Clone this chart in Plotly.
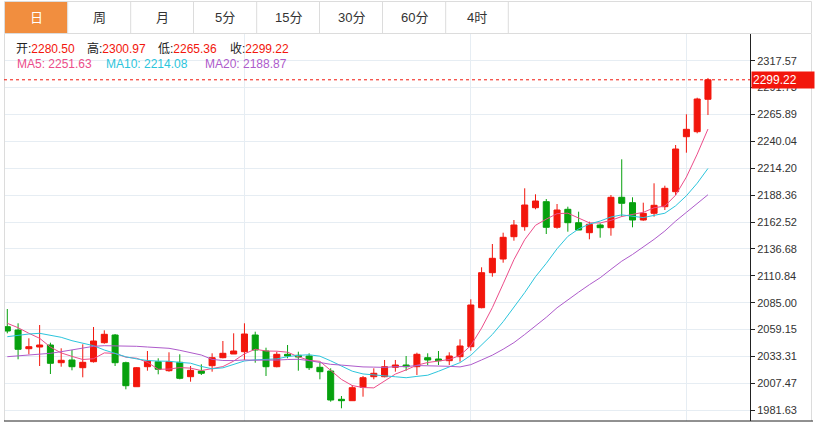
import plotly.graph_objects as go
import pandas as pd

# ---------------- data ----------------
opens = [
    2061.96, 2058.79, 2040.83, 2042.46, 2044.38, 2027.37, 2029.97, 2022.57, 2028.33, 2046.59,
    2053.99, 2027.37, 2004.31, 2023.53, 2028.33, 2019.69, 2027.75, 2013.92, 2019.40, 2024.49,
    2032.18, 2035.73, 2037.94, 2053.99, 2038.61, 2023.53, 2035.44, 2034.48, 2033.81, 2022.95,
    2019.40, 1992.20, 1990.86, 2003.73, 2013.92, 2013.92, 2022.95, 2025.16, 2023.53, 2032.18,
    2030.93, 2029.29, 2033.14, 2042.75, 2080.22, 2113.85, 2127.02, 2148.44, 2158.05, 2176.31,
    2182.08, 2157.48, 2174.77, 2161.90, 2152.29, 2159.69, 2157.09, 2186.30, 2181.12, 2164.49,
    2170.93, 2177.27, 2191.69, 2244.53, 2249.34, 2280.50]
highs = [
    2078.97, 2065.23, 2050.82, 2063.60, 2046.59, 2041.21, 2039.57, 2045.05, 2061.68, 2058.50,
    2054.95, 2028.33, 2023.24, 2038.61, 2031.60, 2037.36, 2035.44, 2024.20, 2025.83, 2036.40,
    2048.22, 2055.62, 2065.23, 2057.16, 2041.78, 2037.94, 2044.38, 2037.94, 2036.40, 2027.37,
    2021.99, 1995.37, 2005.94, 2014.59, 2021.99, 2029.97, 2029.97, 2033.81, 2036.98, 2036.40,
    2038.61, 2037.36, 2049.86, 2088.29, 2119.04, 2141.43, 2152.29, 2164.49, 2194.95, 2189.19,
    2184.67, 2179.87, 2177.27, 2172.47, 2162.86, 2161.32, 2188.51, 2222.82, 2186.30, 2181.12,
    2199.76, 2197.45, 2236.56, 2266.06, 2282.01, 2300.97]
lows = [
    2055.62, 2030.64, 2035.44, 2024.20, 2016.51, 2023.53, 2020.07, 2013.34, 2027.50, 2045.63,
    2024.20, 2001.81, 2004.31, 2019.69, 2016.22, 2018.72, 2011.42, 2009.11, 2015.55, 2018.72,
    2031.60, 2035.73, 2029.97, 2027.37, 2014.59, 2022.95, 2031.60, 2019.69, 2020.37, 2011.42,
    1989.90, 1983.56, 1990.86, 1994.70, 2011.42, 2013.34, 2018.72, 2019.69, 2015.55, 2025.16,
    2025.16, 2025.16, 2028.33, 2038.90, 2079.64, 2110.01, 2123.46, 2144.60, 2154.21, 2174.77,
    2151.04, 2156.13, 2153.25, 2154.88, 2145.95, 2147.48, 2149.41, 2167.66, 2157.48, 2163.80,
    2167.66, 2174.10, 2188.51, 2229.16, 2247.80, 2265.36]
closes = [
    2057.83, 2040.25, 2042.75, 2044.38, 2026.79, 2029.68, 2023.53, 2027.75, 2048.22, 2054.66,
    2027.37, 2005.27, 2022.57, 2029.01, 2021.03, 2028.33, 2012.38, 2020.07, 2017.19, 2032.18,
    2036.40, 2038.61, 2054.95, 2039.57, 2023.53, 2035.44, 2033.81, 2032.85, 2022.57, 2018.72,
    1991.53, 1990.86, 2003.35, 2012.96, 2017.19, 2023.53, 2025.16, 2023.53, 2035.44, 2029.97,
    2029.29, 2033.81, 2043.42, 2082.82, 2113.85, 2127.69, 2147.87, 2159.69, 2178.91, 2182.75,
    2157.48, 2174.10, 2161.90, 2154.88, 2160.36, 2157.09, 2186.30, 2180.54, 2164.49, 2170.93,
    2178.62, 2194.95, 2232.72, 2251.65, 2280.76, 2299.22]

# moving-average values at the left edge (they depend on bars before the window)
ma5_head = [2065.23, 2061.01, 2055.62, 2050.82]
ma10_head = [2052.36, 2053.99, 2054.95, 2055.62, 2053.99, 2051.78, 2048.51, 2046.01, 2043.71]
ma20_head = [2033.14, 2033.81, 2034.48, 2035.06, 2036.40, 2037.94, 2039.57, 2041.78, 2043.13,
             2043.71, 2043.71, 2043.42, 2043.13, 2042.46, 2041.78, 2041.21, 2039.29, 2037.36,
             2034.77]

ohlc_labels = ["开", "高", "低", "收"]
ma_names = ["MA5", "MA10", "MA20"]
ma_values_text = ["2251.63", "2214.08", "2188.87"]
tab_labels = ["日", "周", "月", "5分", "15分", "30分", "60分", "4时"]
y_ticks = [1981.63, 2007.47, 2033.31, 2059.15, 2085.00, 2110.84, 2136.68, 2162.52,
           2188.36, 2214.20, 2240.04, 2265.89, 2291.73, 2317.57]
grid_x = [22, 43, 63]

# ---------------- styles ----------------
RED = "#F2160C"
GREEN = "#07A10E"
MA_COLORS = ["#EC4D8A", "#2CC5DC", "#AE5BCB"]
GRID = "#E6EDF3"
BORDER = "#DCDCDC"
FONT = "Liberation Sans, Noto Sans CJK SC, sans-serif"

W, H = 816, 423
L, R, T, B = 4, 750, 34, 421   # plot area in pixels

def px(xp):
    return (xp - L) / (R - L)

def py(yp):
    return (B - yp) / (B - T)

x = list(range(len(closes)))
s = pd.Series(closes)
ma5 = ma5_head + s.rolling(5).mean().dropna().round(2).tolist()
ma10 = ma10_head + s.rolling(10).mean().dropna().round(2).tolist()
ma20 = ma20_head + s.rolling(20).mean().dropna().round(2).tolist()

fig = go.Figure()
fig.add_trace(go.Candlestick(
    x=x, open=opens, high=highs, low=lows, close=closes,
    increasing=dict(line=dict(color=RED, width=1), fillcolor=RED),
    decreasing=dict(line=dict(color=GREEN, width=1), fillcolor=GREEN),
    whiskerwidth=0, hoverinfo="skip", showlegend=False))
for vals, col in zip([ma5, ma10, ma20], MA_COLORS):
    fig.add_trace(go.Scatter(x=x, y=vals, mode="lines", line=dict(color=col, width=1),
                             hoverinfo="skip", showlegend=False))

shapes = []
# tab bar
shapes.append(dict(type="rect", xref="paper", yref="paper", x0=px(4.5), x1=px(811.5),
                   y0=py(33.5), y1=py(1.5), line=dict(color=BORDER, width=1), layer="below"))
shapes.append(dict(type="rect", xref="paper", yref="paper", x0=px(5), x1=px(67.2),
                   y0=py(33), y1=py(2), line=dict(width=0), fillcolor="#F18E3F", layer="below"))
tab_edges = [4.5, 67.7, 130.7, 193.5, 256.7, 319.5, 382.5, 445.7, 508.3]
for e in tab_edges[1:]:
    shapes.append(dict(type="line", xref="paper", yref="paper", x0=px(e), x1=px(e),
                       y0=py(33.5), y1=py(1.5), line=dict(color=BORDER, width=1)))
# chart frame
shapes.append(dict(type="line", xref="paper", yref="paper", x0=px(4.5), x1=px(4.5),
                   y0=py(34), y1=py(421), line=dict(color=BORDER, width=1)))
shapes.append(dict(type="line", xref="paper", yref="paper", x0=px(811.5), x1=px(811.5),
                   y0=py(34), y1=py(421), line=dict(color=BORDER, width=1)))
shapes.append(dict(type="line", xref="paper", yref="paper", x0=px(4), x1=px(813),
                   y0=0, y1=0, line=dict(color="#222222", width=1)))
# last close dotted line
shapes.append(dict(type="line", xref="paper", yref="y", x0=0, x1=1,
                   y0=closes[-1], y1=closes[-1], line=dict(color=RED, width=1, dash="dot")))

ann = []
tab_centers = [(a + b) / 2 for a, b in zip(tab_edges[:-1], tab_edges[1:])]
for i, (lab, cx) in enumerate(zip(tab_labels, tab_centers)):
    ann.append(dict(xref="paper", yref="paper", x=px(cx), y=py(17.5), text=lab, showarrow=False,
                    xanchor="center", yanchor="middle",
                    font=dict(size=13, color="white" if i == 0 else "#333333", family=FONT)))

last_vals = [opens[-1], highs[-1], lows[-1], closes[-1]]
ohlc_x = [13.5, 84.5, 155.5, 227.5]
for lab, v, xx in zip(ohlc_labels, last_vals, ohlc_x):
    ann.append(dict(xref="paper", yref="paper", x=px(xx), y=py(49), showarrow=False,
                    xanchor="left", yanchor="middle",
                    text=f"{lab}:<span style='color:{RED}'>{v:.2f}</span>",
                    font=dict(size=12, color="#222222", family=FONT)))
ma_x = [14.5, 103.5, 202.5]
for name, vt, col, xx in zip(ma_names, ma_values_text, MA_COLORS, ma_x):
    ann.append(dict(xref="paper", yref="paper", x=px(xx), y=py(64.5), showarrow=False,
                    xanchor="left", yanchor="middle", text=f"{name}: {vt}",
                    font=dict(size=12, color=col, family=FONT)))
# last price tag
ann.append(dict(xref="paper", yref="y", x=1, y=closes[-1], xanchor="left", yanchor="middle",
                xshift=1, showarrow=False, text=f"{closes[-1]:.2f}", bgcolor=RED,
                font=dict(size=12, color="white", family=FONT), width=60, align="left",
                borderpad=1))

fig.update_layout(
    width=W, height=H, margin=dict(l=L, r=W - R, t=T, b=H - B, pad=0),
    plot_bgcolor="white", paper_bgcolor="white",
    font=dict(family=FONT, color="#333333"),
    shapes=shapes, annotations=ann, hovermode=False, boxgap=0.2,
    xaxis=dict(range=[-0.306, 68.9], tickvals=grid_x, showticklabels=False, ticks="",
               showgrid=True, gridcolor=GRID, gridwidth=1, zeroline=False, showline=False,
               rangeslider=dict(visible=False), fixedrange=True),
    yaxis=dict(side="right", range=[1971.35, 2343.22], tickvals=y_ticks,
               ticktext=[f"{v:.2f}" for v in y_ticks], ticks="outside", ticklen=4,
               tickcolor="#222222", showline=True, linecolor="#222222", linewidth=1,
               showgrid=True, gridcolor=GRID, gridwidth=1, zeroline=False,
               tickfont=dict(size=11, color="#333333", family=FONT), fixedrange=True),
)

fig.write_html("out.html", config={"displayModeBar": False},
               post_script="document.body.style.margin='0px';document.body.style.overflow='hidden';")
